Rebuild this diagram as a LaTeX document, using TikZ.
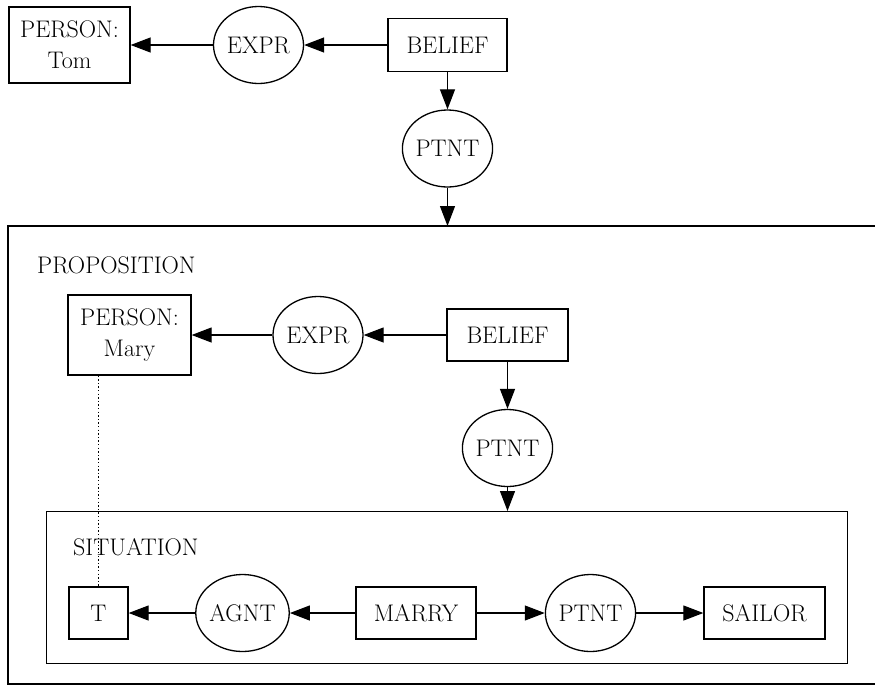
\documentclass[tikz,border=0pt]{standalone}
\usetikzlibrary{arrows.meta,shapes.geometric}
\begin{document}
\begin{tikzpicture}[x=1pt,y=-1pt,
  every node/.style={font=\fontsize{24}{31}\selectfont, inner sep=0pt},
  concept/.style={draw, line width=1.3pt, rectangle, minimum height=52pt},
  rel/.style={draw, line width=1.3pt, ellipse, minimum width=90pt, minimum height=77pt},
  arr/.style={line width=1.2pt, -{Triangle[length=20pt,width=15pt]}},
  lbl/.style={anchor=base west}]
\useasboundingbox (0,0) rectangle (875,686);
% top level
\node[concept, minimum width=121pt, minimum height=76pt, align=center] (tom) at (69.5,45) {PERSON:\\Tom};
\node[rel] (expr1) at (258.5,45) {EXPR};
\node[concept, minimum width=119pt, minimum height=53pt] (belief1) at (447.5,45) {BELIEF};
\node[rel] (ptnt1) at (447.5,148.5) {PTNT};
\draw[arr] (belief1) -- (expr1);
\draw[arr] (expr1) -- (tom);
\draw[arr] (belief1) -- (ptnt1);
% proposition context
\coordinate (pTR) at (890,226);
\coordinate (pTL) at (8,226);
\coordinate (pBL) at (8,684);
\coordinate (pBR) at (890,684);
\draw[line width=1.5pt] (pTR) -- (pTL) -- (pBL) -- (pBR);
\draw[arr] (ptnt1) -- (ptnt1 |- pTL);
\node[lbl] (prop) at (37,273) {PROPOSITION};
\node[concept, minimum width=123pt, minimum height=80pt, align=center] (mary) at (129.5,335) {PERSON:\\Mary};
\node[rel] (expr2) at (318,335) {EXPR};
\node[concept, minimum width=121pt, minimum height=52pt] (belief2) at (507.5,335) {BELIEF};
\node[rel] (ptnt2) at (507.5,448) {PTNT};
\draw[arr] (belief2) -- (expr2);
\draw[arr] (expr2) -- (mary);
\draw[arr] (belief2) -- (ptnt2);
% situation context
\node[draw, line width=1.3pt, minimum width=801pt, minimum height=152pt, anchor=north west] (sit) at (46,511) {};
\draw[arr] (ptnt2) -- (ptnt2 |- sit.north);
\node[lbl] (sitlbl) at (73,555) {SITUATION};
\node[concept, minimum width=59pt] (t) at (98.5,613) {T};
\node[rel] (agnt) at (242.5,613) {AGNT};
\node[concept, minimum width=120pt] (marry) at (416,613) {MARRY};
\node[rel] (ptnt3) at (590.5,613) {PTNT};
\node[concept, minimum width=121pt] (sailor) at (764.5,613) {SAILOR};
\draw[arr] (marry) -- (agnt);
\draw[arr] (agnt) -- (t);
\draw[arr] (marry) -- (ptnt3);
\draw[arr] (ptnt3) -- (sailor);
% coreference link
\draw[line width=1.4pt, dash pattern=on 1.4pt off 2.2pt] (t.north |- mary.south) -- (t.north);
\end{tikzpicture}
\end{document}
